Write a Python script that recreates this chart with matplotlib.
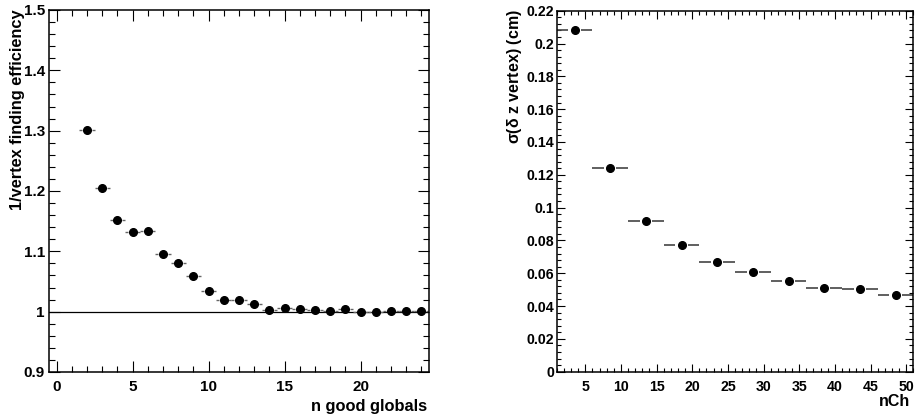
import numpy as np
import matplotlib
matplotlib.use("Agg")
import matplotlib.pyplot as plt
from matplotlib.ticker import MultipleLocator

plt.rcParams['font.family'] = ['Liberation Sans', 'DejaVu Sans']
plt.rcParams['font.weight'] = 'bold'
plt.rcParams['mathtext.fontset'] = 'dejavusans'
plt.rcParams['mathtext.default'] = 'regular'

# ── Data ─────────────────────────────────────────────────────────────────
n_globals = [2, 3, 4, 5, 6, 7, 8, 9, 10, 11, 12, 13,
             14, 15, 16, 17, 18, 19, 20, 21, 22, 23, 24]
inv_eff = [1.301, 1.205, 1.152, 1.132, 1.134, 1.096, 1.081, 1.059, 1.035,
           1.020, 1.020, 1.012, 1.002, 1.006, 1.005, 1.002, 1.001, 1.004,
           1.000, 1.000, 1.001, 1.001, 1.001]
n_globals_halfwidth = 0.5

nch = [3.5, 8.5, 13.5, 18.5, 23.5, 28.5, 33.5, 38.5, 43.5, 48.5]
sigma_dz = [0.208, 0.124, 0.092, 0.077, 0.067, 0.061, 0.0555, 0.051, 0.0505, 0.047]
nch_halfwidth = 2.5


def root_frame(ax, major_len, minor_len, labelsize):
    """ROOT-like frame: ticks inward on all four sides."""
    for sp in ax.spines.values():
        sp.set_linewidth(1.1)
    ax.tick_params(which='both', direction='in', top=True, right=True,
                   width=0.8, labelsize=labelsize)
    ax.tick_params(which='major', length=major_len)
    ax.tick_params(which='minor', length=minor_len)
    for lab in ax.get_xticklabels() + ax.get_yticklabels():
        lab.set_fontweight('bold')


def gapped_xerr(ax, x, y, half, gap, **kw):
    x = np.asarray(x)
    y = np.asarray(y)
    ax.hlines(y, x - half, x - gap, **kw)
    ax.hlines(y, x + gap, x + half, **kw)


fig = plt.figure(figsize=(9.17, 4.19), dpi=100)

# ── Left panel: 1/efficiency vs n good globals ───────────────────────────
ax1 = fig.add_axes([0.0534, 0.1122, 0.4144, 0.8640])
ax1.axhline(1.0, color='black', lw=0.9, zorder=1)
gapped_xerr(ax1, n_globals, inv_eff, n_globals_halfwidth, 0.3,
            colors='#666666', lw=1.0, zorder=2)
ax1.plot(n_globals, inv_eff, 'o', color='black', ms=5.5, zorder=3)
ax1.set_xlim(-0.5, 24.5)
ax1.set_ylim(0.9, 1.5)
ax1.xaxis.set_major_locator(MultipleLocator(5))
ax1.xaxis.set_minor_locator(MultipleLocator(1))
ax1.yaxis.set_minor_locator(MultipleLocator(0.02))
ax1.set_yticks([0.9, 1.0, 1.1, 1.2, 1.3, 1.4, 1.5])
ax1.set_yticklabels(['0.9', '1', '1.1', '1.2', '1.3', '1.4', '1.5'])
root_frame(ax1, 7.6, 4.0, 11)
ax1.tick_params(axis='x', pad=6)
ax1.tick_params(axis='y', pad=3)

fig.text(0.019, 0.977, '1/vertex finding efficiency', rotation=90,
         ha='center', va='top', fontsize=11.8, fontweight='bold')
fig.text(0.466, 0.031, 'n good globals', ha='right', va='center',
         fontsize=11.8, fontweight='bold')

# ── Right panel: sigma(dz vertex) vs nCh ─────────────────────────────────
ax2 = fig.add_axes([0.6071, 0.1129, 0.3889, 0.8616])
gapped_xerr(ax2, nch, sigma_dz, nch_halfwidth, 0.85,
            colors='#444444', lw=1.2, zorder=2)
ax2.plot(nch, sigma_dz, 'o', color='black', ms=5.5, zorder=3)
ax2.set_xlim(1, 51)
ax2.set_ylim(0, 0.22)
ax2.xaxis.set_major_locator(MultipleLocator(5))
ax2.xaxis.set_minor_locator(MultipleLocator(1))
ax2.set_yticks(np.arange(0, 0.2201, 0.02))
ax2.set_yticklabels(['0', '0.02', '0.04', '0.06', '0.08', '0.1', '0.12',
                     '0.14', '0.16', '0.18', '0.2', '0.22'])
ax2.yaxis.set_minor_locator(MultipleLocator(0.004))
root_frame(ax2, 5.8, 2.9, 10.2)
ax2.tick_params(axis='x', pad=6)
ax2.tick_params(axis='y', pad=2)

fig.text(0.5615, 0.977, r'$\sigma$($\delta$ z vertex) (cm)', rotation=90,
         ha='center', va='top', fontsize=11.5, fontweight='bold')
fig.text(0.993, 0.041, 'nCh', ha='right', va='center',
         fontsize=11.5, fontweight='bold')

fig.savefig('out.png', dpi=100)
